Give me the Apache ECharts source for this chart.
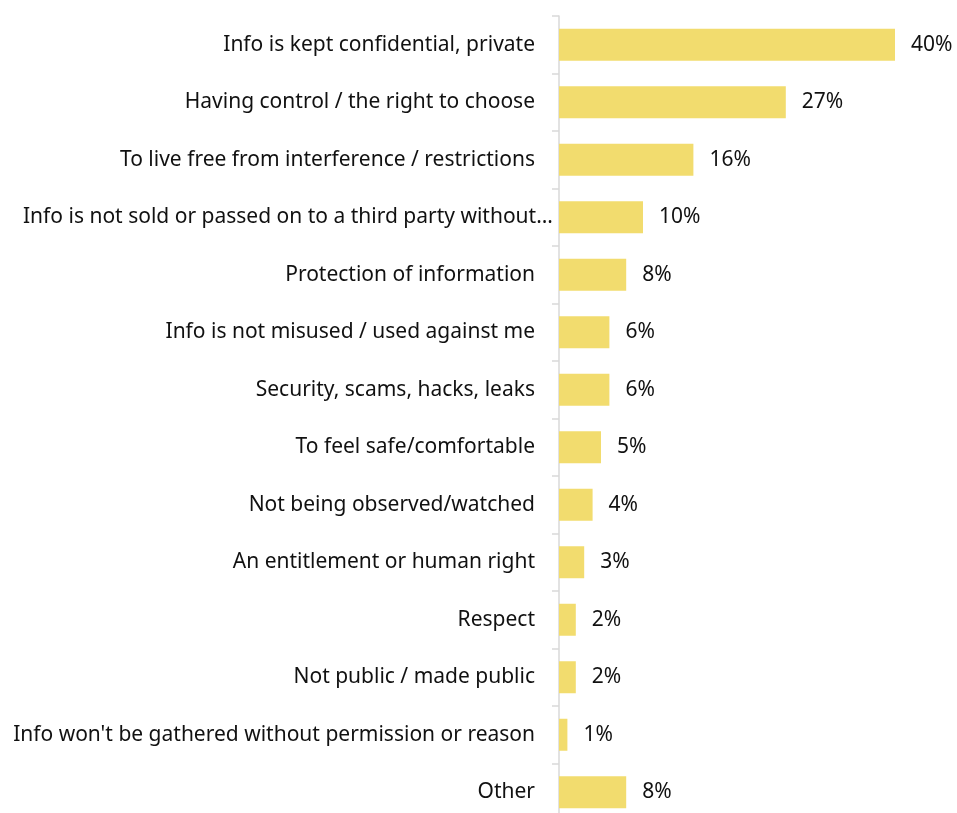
<!DOCTYPE html>
<html>
<head>
<meta charset="utf-8">
<script src="https://cdn.jsdelivr.net/npm/echarts@6/dist/echarts.min.js"></script>
<style>
  html, body { margin: 0; padding: 0; background: #fff; }
  #chart { width: 957px; height: 813px; }
</style>
</head>
<body>
<div id="chart"></div>
<script>
// Reasons people give for why privacy matters (share of mentions, %)
const categories = [
  "Info is kept confidential, private",
  "Having control / the right to choose",
  "To live free from interference / restrictions",
  "Info is not sold or passed on to a third party without…",
  "Protection of information",
  "Info is not misused / used against me",
  "Security, scams, hacks, leaks",
  "To feel safe/comfortable",
  "Not being observed/watched",
  "An entitlement or human right",
  "Respect",
  "Not public / made public",
  "Info won't be gathered without permission or reason",
  "Other"
];
const values = [40, 27, 16, 10, 8, 6, 6, 5, 4, 3, 2, 2, 1, 8];

// the shortened label runs a little past the usual label edge
const longLabelIndex = 3;

const FONT = '"Noto Sans"';
const SIZE = 21;
const chart = echarts.init(document.getElementById('chart'), null, { renderer: 'canvas' });

chart.setOption({
  animation: false,
  backgroundColor: '#ffffff',
  grid: { left: 559, width: 378, top: 16, height: 805, outerBoundsMode: 'none', containLabel: false },
  xAxis: {
    type: 'value',
    min: 0,
    max: 45,
    show: false
  },
  yAxis: {
    type: 'category',
    inverse: true,
    data: categories,
    axisLine: { show: true, lineStyle: { color: '#d9d9d9', width: 1.5 } },
    axisTick: { show: true, length: 7, alignWithLabel: false, lineStyle: { color: '#d9d9d9', width: 1.5 } },
    axisLabel: {
      margin: 24,
      fontFamily: FONT,
      fontSize: SIZE,
      color: '#111111',
      formatter: (v, i) => i === longLabelIndex ? '{wide|' + v + '}' : v,
      rich: {
        wide: {
          fontFamily: FONT,
          fontSize: SIZE,
          color: '#111111',
          width: 512,
          align: 'left'
        }
      }
    },
    splitLine: { show: false }
  },
  series: [{
    type: 'bar',
    data: values,
    barWidth: 32,
    itemStyle: { color: '#F2DC6E' },
    label: {
      show: true,
      position: 'right',
      distance: 16,
      formatter: p => p.value + '%',
      fontFamily: FONT,
      fontSize: SIZE,
      color: '#111111'
    }
  }]
});
</script>
</body>
</html>
